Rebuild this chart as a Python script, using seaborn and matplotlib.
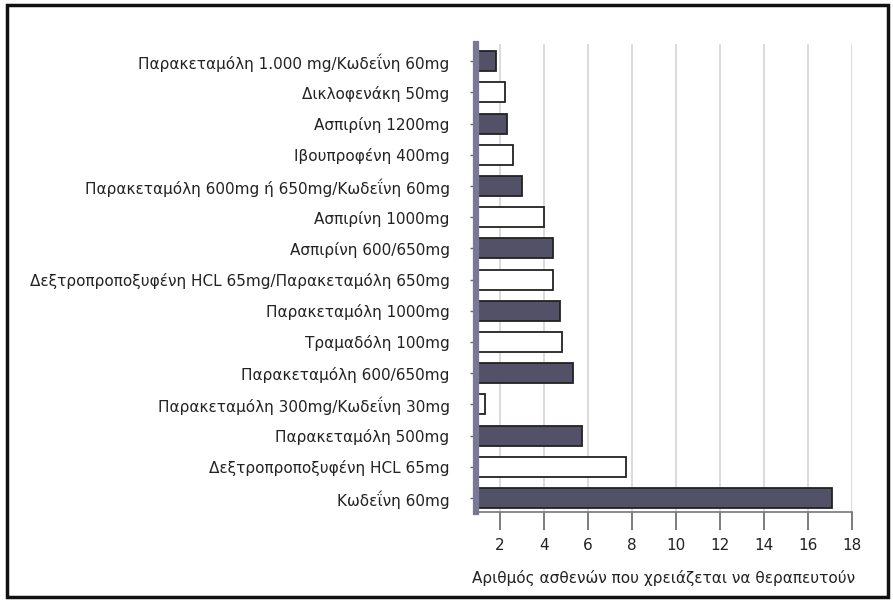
import pandas as pd
import matplotlib.pyplot as plt
import seaborn as sns
from matplotlib.patches import Rectangle

# drugs, top to bottom
drugs = [
    'Παρακεταμόλη 1.000 mg/Κωδεΐνη 60mg',
    'Δικλοφενάκη 50mg',
    'Ασπιρίνη 1200mg',
    'Ιβουπροφένη 400mg',
    'Παρακεταμόλη 600mg ή 650mg/Κωδεΐνη 60mg',
    'Ασπιρίνη 1000mg',
    'Ασπιρίνη 600/650mg',
    'Δεξτροπροποξυφένη HCL 65mg/Παρακεταμόλη 650mg',
    'Παρακεταμόλη 1000mg',
    'Τραμαδόλη 100mg',
    'Παρακεταμόλη 600/650mg',
    'Παρακεταμόλη 300mg/Κωδεΐνη 30mg',
    'Παρακεταμόλη 500mg',
    'Δεξτροπροποξυφένη HCL 65mg',
    'Κωδεΐνη 60mg',
]
nnt = [1.8, 2.2, 2.3, 2.6, 3.0, 4.0, 4.4, 4.4, 4.7, 4.8, 5.3, 1.3, 5.7, 7.7, 17.1]
shade = ['dark', 'light'] * 7 + ['dark']
xticks = [2, 4, 6, 8, 10, 12, 14, 16, 18]

df = pd.DataFrame({'drug': drugs, 'nnt': nnt, 'shade': shade})

sns.set_style('white')
plt.rcParams['font.family'] = ['DejaVu Sans']

fig = plt.figure(figsize=(8.93, 6.02), dpi=100)
ax = fig.add_axes([476 / 893, 1 - 512 / 602, (852 - 476) / 893, (512 - 44) / 602])

# gridlines behind bars
for t in xticks:
    ax.axvline(t, color='#d4d4d4', lw=1.2, zorder=0)

sns.barplot(data=df, x='nnt', y='drug', hue='shade', order=drugs,
            palette={'dark': '#4e4d6c', 'light': 'white'}, dodge=False,
            width=0.64, edgecolor='#222222', linewidth=1.3, legend=False,
            ax=ax, zorder=2)

ax.set_xlim(0.9, 18)
ax.set_ylim(14.45, -0.55)
ax.set_xticks(xticks)
ax.set_xlabel('Αριθμός ασθενών που χρειάζεται να θεραπευτούν', fontsize=11,
              color='#222222', labelpad=12)
ax.set_ylabel('')
ax.tick_params(axis='x', length=13, width=1.2, color='#666666', labelsize=11,
               labelcolor='#222222', pad=6, direction='out', bottom=True)
ax.tick_params(axis='y', length=4, width=1, color='#666666', labelsize=11,
               labelcolor='#222222', pad=15, left=True)

for s in ['top', 'right']:
    ax.spines[s].set_visible(False)
ax.spines['bottom'].set_color('#777777')
ax.spines['bottom'].set_linewidth(1.2)
ax.spines['left'].set_color('#7a7896')
ax.spines['left'].set_linewidth(4.5)

# frame round the whole picture
fig.patches.append(Rectangle((7 / 893, 5 / 602), 881 / 893, 592 / 602,
                             transform=fig.transFigure, fill=False,
                             edgecolor='#111111', lw=2.5))

fig.savefig('out.png', dpi=100)
